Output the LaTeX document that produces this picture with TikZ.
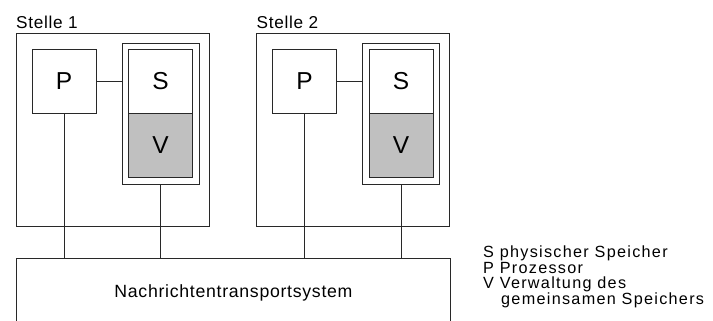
\documentclass[tikz,border=0pt]{standalone}
\usepackage{fontspec}
\setmainfont{Liberation Sans}
\newfontfamily\boxfamily{Liberation Sans}
\newfontfamily\lblfamily[LetterSpace=4]{Liberation Sans}
\newfontfamily\busfamily[LetterSpace=4]{Liberation Sans}
\newfontfamily\legfamily[LetterSpace=8]{Liberation Sans}
\definecolor{vgray}{RGB}{192,192,192}
\definecolor{lncol}{RGB}{40,40,40}
\begin{document}
\begin{tikzpicture}[x=1pt,y=-1pt,
  ln/.style={draw=lncol, line width=0.9pt},
  frame/.style={ln, rectangle, inner sep=0pt},
  letterbox/.style={ln, rectangle, minimum width=64pt, minimum height=64pt, inner sep=0pt,
    font=\boxfamily\fontsize{24.5}{28}\selectfont},
  lbl/.style={anchor=base west, inner sep=0pt, font=\lblfamily\fontsize{17.2}{20}\selectfont},
  leg/.style={anchor=north west, inner sep=0pt, align=left,
    font=\legfamily\fontsize{16.2}{15}\selectfont},
]
\useasboundingbox (0,0) rectangle (713,321);
\clip (0,0) rectangle (713,321);
% Stelle 1
\node[frame, minimum width=193pt, minimum height=193pt] (O1) at (112.5,129.5) {};
\node[lbl] (L1) at (16,29) {Stelle 1};
\node[frame, minimum width=77pt, minimum height=141pt] (F1) at (160.5,113.5) {};
\node[letterbox] (P1) at (64,81) {P};
\node[letterbox] (S1) at (160.5,81) {S};
\node[letterbox, fill=vgray] (V1) at (160.5,145) {V};
% Stelle 2
\node[frame, minimum width=193pt, minimum height=193pt] (O2) at (353,129.5) {};
\node[lbl] (L2) at (256.5,29) {Stelle 2};
\node[frame, minimum width=77pt, minimum height=141pt] (F2) at (401,113.5) {};
\node[letterbox] (P2) at (304.5,81) {P};
\node[letterbox] (S2) at (401,81) {S};
\node[letterbox, fill=vgray] (V2) at (401,145) {V};
% bus
\node[frame, minimum width=434pt, minimum height=68pt, anchor=north west,
  font=\busfamily\fontsize{17.7}{20}\selectfont] (B) at (16,258) {Nachrichtentransportsystem};
% connectors
\draw[ln] (P1.east) -- (P1.east -| F1.west);
\draw[ln] (P2.east) -- (P2.east -| F2.west);
\draw[ln] (P1.south) -- (P1.south |- B.north);
\draw[ln] (F1.south) -- (F1.south |- B.north);
\draw[ln] (P2.south) -- (P2.south |- B.north);
\draw[ln] (F2.south) -- (F2.south |- B.north);
% legend
\node[leg] (G) at (483,245.5) {S physischer Speicher\\[1pt]
  P Prozessor\\
  V Verwaltung des\\
  \hspace*{18pt}gemeinsamen Speichers};
\end{tikzpicture}
\end{document}
